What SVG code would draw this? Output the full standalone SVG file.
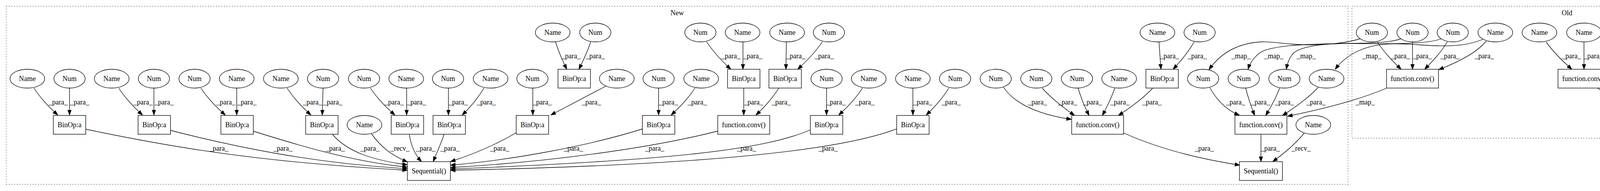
<svg xmlns="http://www.w3.org/2000/svg" width="4579" height="488" viewBox="0 0 4579 488">
<style>
text{font-family:"Liberation Serif","Times New Roman",serif;font-size:18px;fill:#000;text-anchor:middle}
.cl{fill:none;stroke:#000;stroke-width:1.33;stroke-dasharray:1.4,5.4}
.n ellipse,.n rect{fill:#fff;stroke:#000;stroke-width:1.33}
#edges path{fill:none;stroke:#000;stroke-width:1.33;marker-end:url(#ah)}
</style>
<defs>
<marker id="ah" viewBox="0 0 13 10" refX="13" refY="5" markerWidth="13" markerHeight="10" orient="auto" markerUnits="userSpaceOnUse"><path d="M0,0.3 L13,5 L0,9.7 z" fill="#000" stroke="#000" stroke-width="1"/></marker>
</defs>
<rect width="4579" height="488" fill="#fff"/>
<g id="cluster_new"><rect class="cl" x="16" y="16" width="3435" height="455"/><text x="1733.5" y="39">New</text></g>
<g id="cluster_old"><rect class="cl" x="3461" y="16" width="1101" height="337"/><text x="4011.5" y="39">Old</text></g>
<g id="edges">
<path d="M87,225 C105,253 127,275 148,294"/>
<path d="M178,225 L178,294"/>
<path d="M304,225 C322,253 344,275 365,294"/>
<path d="M394,225 L394,294"/>
<path d="M514,225 C533,253 555,275 577,294"/>
<path d="M606,225 L606,294"/>
<path d="M735,225 C753,253 775,275 796,294"/>
<path d="M827,225 L825,294"/>
<path d="M948,225 C967,253 989,275 1011,294"/>
<path d="M1041,225 L1041,294"/>
<path d="M1148,225 L1148,294"/>
<path d="M1239,225 C1222,253 1203,275 1183,294"/>
<path d="M1364,225 L1364,294"/>
<path d="M1551,220 L1410,294"/>
<path d="M1686,225 L1686,294"/>
<path d="M1779,225 C1761,253 1739,275 1718,294"/>
<path d="M1904,225 L1904,294"/>
<path d="M1994,225 C1976,253 1956,275 1935,294"/>
<path d="M2116,225 L2116,294"/>
<path d="M2208,225 C2190,253 2168,275 2147,294"/>
<path d="M2337,225 L2337,294"/>
<path d="M2429,225 C2412,253 2391,275 2371,294"/>
<path d="M1422,107 C1431,135 1441,157 1451,177"/>
<path d="M1512,107 C1503,135 1492,157 1482,177"/>
<path d="M1809,107 C1828,135 1849,157 1871,177"/>
<path d="M1902,107 L1902,177"/>
<path d="M2013,107 L2012,177"/>
<path d="M2105,107 C2086,135 2064,157 2042,177"/>
<path d="M2967,107 L2972,177"/>
<path d="M3057,107 C3041,135 3022,157 3003,177"/>
<path d="M2569,223 C2590,255 2640,290 2743,305"/>
<path d="M2668,225 C2693,253 2722,275 2751,295"/>
<path d="M2760,225 C2768,253 2778,275 2788,295"/>
<path d="M2854,225 C2844,253 2833,275 2822,295"/>
<path d="M2951,225 C2925,253 2894,275 2863,295"/>
<path d="M3097,224 C3115,255 3140,282 3173,294"/>
<path d="M3189,225 C3196,253 3204,275 3212,295"/>
<path d="M3276,225 C3265,253 3253,275 3240,295"/>
<path d="M3375,223 C3347,252 3315,275 3283,295"/>
<path d="M3550,225 C3480,255 3380,280 3296,297"/>
<path d="M3228,343 L3228,413"/>
<path d="M3339,340 C3315,369 3286,393 3258,413"/>
<path d="M2877,340 C2990,390 3100,410 3174,422"/>
<path d="M219,330 C420,372 650,414 1043,435"/>
<path d="M436,333 C600,375 800,417 1043,431"/>
<path d="M648,335 C760,370 900,413 1043,427"/>
<path d="M851,343 C890,390 960,410 1043,421"/>
<path d="M951,342 C975,375 1000,395 1043,414"/>
<path d="M1048,343 C1052,375 1065,398 1079,413"/>
<path d="M1137,343 C1128,370 1118,390 1109,413"/>
<path d="M1322,339 C1260,375 1200,398 1153,413"/>
<path d="M1646,329 C1500,375 1300,410 1153,422"/>
<path d="M1837,335 C1660,380 1400,414 1153,428"/>
<path d="M2074,332 C1950,385 1700,410 1153,432"/>
<path d="M2296,329 C2150,385 1800,422 1153,435"/>
<path d="M3526,107 C3544,135 3566,157 3587,177"/>
<path d="M3616,107 L3616,177"/>
<path d="M3705,107 C3688,135 3667,157 3647,177"/>
<path d="M3805,105 C3780,135 3730,160 3683,178"/>
<path d="M3482,99 C3440,112 3380,116 3330,114 C3280,112 3260,106 3230,107 C3170,110 3125,135 3095,178"/>
<path d="M3587,99 C3550,112 3480,110 3400,112 C3320,114 3250,118 3225,135 C3210,147 3200,160 3195,177"/>
<path d="M3690,99 C3650,114 3560,112 3450,111 C3380,111 3330,120 3312,135 C3302,145 3296,160 3293,177"/>
<path d="M3797,100 C3760,116 3720,118 3680,117 C3640,116 3600,111 3560,112 C3500,114 3450,135 3418,177"/>
<path d="M3958,107 C3978,135 4001,157 4024,177"/>
<path d="M4055,107 L4055,177"/>
<path d="M4175,107 C4185,135 4196,157 4208,177"/>
<path d="M4270,107 C4260,135 4249,157 4238,177"/>
<path d="M4394,107 L4394,177"/>
<path d="M4491,107 C4472,135 4449,157 4427,177"/>
<path d="M4090,225 L4190,295"/>
<path d="M4225,225 L4225,295"/>
<path d="M4361,225 L4261,295"/>
<g id="edge_labels">
<text x="1462" y="149">_para_</text><text x="1524" y="149">_para_</text><text x="1871" y="149">_para_</text><text x="1927" y="149">_para_</text><text x="2037" y="149">_para_</text><text x="2110" y="149">_para_</text><text x="2994" y="149">_para_</text><text x="3065" y="149">_para_</text>
<text x="3585" y="149">_para_</text><text x="3641" y="149">_para_</text><text x="3712" y="149">_para_</text><text x="3800" y="149">_para_</text>
<text x="3177" y="149">_map_</text><text x="3261" y="149">_map_</text><text x="3344" y="149">_map_</text><text x="3512" y="149">_map_</text>
<text x="4023" y="149">_para_</text><text x="4079" y="149">_para_</text><text x="4216" y="149">_para_</text><text x="4281" y="149">_para_</text><text x="4419" y="149">_para_</text><text x="4493" y="149">_para_</text>
<text x="149" y="267">_para_</text><text x="204" y="267">_para_</text><text x="366" y="267">_para_</text><text x="420" y="267">_para_</text><text x="578" y="267">_para_</text><text x="632" y="267">_para_</text><text x="800" y="267">_para_</text><text x="852" y="267">_para_</text><text x="1009" y="267">_para_</text><text x="1066" y="267">_para_</text><text x="1173" y="267">_para_</text><text x="1245" y="267">_para_</text><text x="1388" y="267">_para_</text><text x="1514" y="267">_para_</text><text x="1711" y="267">_para_</text><text x="1785" y="267">_para_</text><text x="1929" y="267">_para_</text><text x="2000" y="267">_para_</text><text x="2140" y="267">_para_</text><text x="2214" y="267">_para_</text><text x="2362" y="267">_para_</text><text x="2435" y="267">_para_</text>
<text x="2656" y="267">_para_</text><text x="2733" y="267">_para_</text><text x="2797" y="267">_para_</text><text x="2867" y="267">_para_</text><text x="2949" y="267">_para_</text>
<text x="3163" y="267">_para_</text><text x="3227" y="267">_para_</text><text x="3288" y="267">_para_</text><text x="3369" y="267">_para_</text><text x="3495" y="267">_map_</text>
<text x="4179" y="267">_para_</text><text x="4249" y="267">_para_</text><text x="4349" y="267">_para_</text>
<text x="560" y="385">_para_</text><text x="724" y="385">_para_</text><text x="858" y="385">_para_</text><text x="947" y="385">_para_</text><text x="1024" y="385">_recv_</text><text x="1090" y="385">_para_</text><text x="1152" y="385">_para_</text><text x="1279" y="385">_para_</text><text x="1468" y="385">_para_</text><text x="1676" y="385">_para_</text><text x="1911" y="385">_para_</text><text x="2120" y="385">_para_</text>
<text x="3252" y="385">_para_</text><text x="3331" y="385">_recv_</text><text x="3083" y="385">_para_</text>
</g>
</g>
<g id="t1" class="n"><ellipse cx="1415" cy="83" rx="44.5" ry="24"/><text x="1415" y="89">Name</text></g>
<g id="t2" class="n"><ellipse cx="1524" cy="83" rx="40" ry="24"/><text x="1524" y="89">Num</text></g>
<g id="t3" class="n"><ellipse cx="1793" cy="83" rx="40" ry="24"/><text x="1793" y="89">Num</text></g>
<g id="t4" class="n"><ellipse cx="1901" cy="83" rx="44.5" ry="24"/><text x="1901" y="89">Name</text></g>
<g id="t5" class="n"><ellipse cx="2015" cy="83" rx="44.5" ry="24"/><text x="2015" y="89">Name</text></g>
<g id="t6" class="n"><ellipse cx="2122" cy="83" rx="40" ry="24"/><text x="2122" y="89">Num</text></g>
<g id="t7" class="n"><ellipse cx="2963" cy="83" rx="44.5" ry="24"/><text x="2963" y="89">Name</text></g>
<g id="t8" class="n"><ellipse cx="3071" cy="83" rx="40" ry="24"/><text x="3071" y="89">Num</text></g>
<g id="a1" class="n"><ellipse cx="70" cy="201" rx="44.5" ry="24"/><text x="70" y="207">Name</text></g>
<g id="a2" class="n"><ellipse cx="178" cy="201" rx="40" ry="24"/><text x="178" y="207">Num</text></g>
<g id="a3" class="n"><ellipse cx="286" cy="201" rx="44.5" ry="24"/><text x="286" y="207">Name</text></g>
<g id="a4" class="n"><ellipse cx="394" cy="201" rx="40" ry="24"/><text x="394" y="207">Num</text></g>
<g id="a5" class="n"><ellipse cx="498" cy="201" rx="40" ry="24"/><text x="498" y="207">Num</text></g>
<g id="a6" class="n"><ellipse cx="606" cy="201" rx="44.5" ry="24"/><text x="606" y="207">Name</text></g>
<g id="a7" class="n"><ellipse cx="719" cy="201" rx="44.5" ry="24"/><text x="719" y="207">Name</text></g>
<g id="a8" class="n"><ellipse cx="827" cy="201" rx="40" ry="24"/><text x="827" y="207">Num</text></g>
<g id="a9" class="n"><ellipse cx="932" cy="201" rx="40" ry="24"/><text x="932" y="207">Num</text></g>
<g id="a10" class="n"><ellipse cx="1040" cy="201" rx="44.5" ry="24"/><text x="1040" y="207">Name</text></g>
<g id="a11" class="n"><ellipse cx="1147" cy="201" rx="40" ry="24"/><text x="1147" y="207">Num</text></g>
<g id="a12" class="n"><ellipse cx="1256" cy="201" rx="44.5" ry="24"/><text x="1256" y="207">Name</text></g>
<g id="a13" class="n"><ellipse cx="1363" cy="201" rx="40" ry="24"/><text x="1363" y="207">Num</text></g>
<g id="a14" class="n"><ellipse cx="1579" cy="201" rx="44.5" ry="24"/><text x="1579" y="207">Name</text></g>
<g id="a15" class="n"><ellipse cx="1686" cy="201" rx="40" ry="24"/><text x="1686" y="207">Num</text></g>
<g id="a16" class="n"><ellipse cx="1795" cy="201" rx="44.5" ry="24"/><text x="1795" y="207">Name</text></g>
<g id="a17" class="n"><ellipse cx="2116" cy="201" rx="40" ry="24"/><text x="2116" y="207">Num</text></g>
<g id="a18" class="n"><ellipse cx="2224" cy="201" rx="44.5" ry="24"/><text x="2224" y="207">Name</text></g>
<g id="a19" class="n"><ellipse cx="2337" cy="201" rx="44.5" ry="24"/><text x="2337" y="207">Name</text></g>
<g id="a20" class="n"><ellipse cx="2445" cy="201" rx="40" ry="24"/><text x="2445" y="207">Num</text></g>
<g id="a21" class="n"><ellipse cx="2549" cy="201" rx="40" ry="24"/><text x="2549" y="207">Num</text></g>
<g id="a22" class="n"><ellipse cx="2653" cy="201" rx="40" ry="24"/><text x="2653" y="207">Num</text></g>
<g id="a23" class="n"><ellipse cx="2757" cy="201" rx="40" ry="24"/><text x="2757" y="207">Num</text></g>
<g id="a24" class="n"><ellipse cx="2865" cy="201" rx="44.5" ry="24"/><text x="2865" y="207">Name</text></g>
<g id="a25" class="n"><ellipse cx="3080" cy="201" rx="40" ry="24"/><text x="3080" y="207">Num</text></g>
<g id="a26" class="n"><ellipse cx="3184" cy="201" rx="40" ry="24"/><text x="3184" y="207">Num</text></g>
<g id="a27" class="n"><ellipse cx="3288" cy="201" rx="40" ry="24"/><text x="3288" y="207">Num</text></g>
<g id="a28" class="n"><ellipse cx="3396" cy="201" rx="44.5" ry="24"/><text x="3396" y="207">Name</text></g>
<g id="b1" class="n"><rect x="1428.5" y="177" width="83" height="48"/><text x="1470" y="207">BinOp:a</text></g>
<g id="b2" class="n"><rect x="1862.5" y="177" width="83" height="48"/><text x="1904" y="207">BinOp:a</text></g>
<g id="b3" class="n"><rect x="1968.5" y="177" width="83" height="48"/><text x="2010" y="207">BinOp:a</text></g>
<g id="b4" class="n"><rect x="2933.5" y="177" width="83" height="48"/><text x="2975" y="207">BinOp:a</text></g>
<g id="c1" class="n"><rect x="136.5" y="295" width="83" height="48"/><text x="178" y="325">BinOp:a</text></g>
<g id="c2" class="n"><rect x="353.5" y="295" width="83" height="48"/><text x="395" y="325">BinOp:a</text></g>
<g id="c3" class="n"><rect x="565.5" y="295" width="83" height="48"/><text x="607" y="325">BinOp:a</text></g>
<g id="c4" class="n"><rect x="782.5" y="295" width="83" height="48"/><text x="824" y="325">BinOp:a</text></g>
<g id="c5" class="n"><ellipse cx="933" cy="319" rx="44.5" ry="24"/><text x="933" y="325">Name</text></g>
<g id="c6" class="n"><rect x="1001.5" y="295" width="83" height="48"/><text x="1043" y="325">BinOp:a</text></g>
<g id="c7" class="n"><rect x="1108.5" y="295" width="83" height="48"/><text x="1150" y="325">BinOp:a</text></g>
<g id="c8" class="n"><rect x="1321.5" y="295" width="83" height="48"/><text x="1363" y="325">BinOp:a</text></g>
<g id="c9" class="n"><rect x="1644.5" y="295" width="83" height="48"/><text x="1686" y="325">BinOp:a</text></g>
<g id="c10" class="n"><rect x="1837.5" y="295" width="133" height="48"/><text x="1904" y="325">function.conv()</text></g>
<g id="c11" class="n"><rect x="2074.5" y="295" width="83" height="48"/><text x="2116" y="325">BinOp:a</text></g>
<g id="c12" class="n"><rect x="2295.5" y="295" width="83" height="48"/><text x="2337" y="325">BinOp:a</text></g>
<g id="c13" class="n"><rect x="2743.5" y="295" width="133" height="48"/><text x="2810" y="325">function.conv()</text></g>
<g id="c14" class="n"><rect x="3161.5" y="295" width="133" height="48"/><text x="3228" y="325">function.conv()</text></g>
<g id="c15" class="n"><ellipse cx="3362" cy="319" rx="44.5" ry="24"/><text x="3362" y="325">Name</text></g>
<g id="d1" class="n"><rect x="1043" y="413" width="110" height="48"/><text x="1098" y="443">Sequential()</text></g>
<g id="d2" class="n"><rect x="3173" y="413" width="110" height="48"/><text x="3228" y="443">Sequential()</text></g>
<g id="o1" class="n"><ellipse cx="3512" cy="83" rx="40" ry="24"/><text x="3512" y="89">Num</text></g>
<g id="o2" class="n"><ellipse cx="3616" cy="83" rx="40" ry="24"/><text x="3616" y="89">Num</text></g>
<g id="o3" class="n"><ellipse cx="3719" cy="83" rx="40" ry="24"/><text x="3719" y="89">Num</text></g>
<g id="o4" class="n"><ellipse cx="3828" cy="83" rx="44.5" ry="24"/><text x="3828" y="89">Name</text></g>
<g id="o5" class="n"><ellipse cx="3941" cy="83" rx="44.5" ry="24"/><text x="3941" y="89">Name</text></g>
<g id="o6" class="n"><ellipse cx="4055" cy="83" rx="44.5" ry="24"/><text x="4055" y="89">Name</text></g>
<g id="o7" class="n"><ellipse cx="4168" cy="83" rx="44.5" ry="24"/><text x="4168" y="89">Name</text></g>
<g id="o8" class="n"><ellipse cx="4281" cy="83" rx="44.5" ry="24"/><text x="4281" y="89">Name</text></g>
<g id="o9" class="n"><ellipse cx="4394" cy="83" rx="44.5" ry="24"/><text x="4394" y="89">Name</text></g>
<g id="o10" class="n"><ellipse cx="4508" cy="83" rx="44.5" ry="24"/><text x="4508" y="89">Name</text></g>
<g id="p1" class="n"><rect x="3549.5" y="177" width="133" height="48"/><text x="3616" y="207">function.conv()</text></g>
<g id="p2" class="n"><rect x="3988.5" y="177" width="133" height="48"/><text x="4055" y="207">function.conv()</text></g>
<g id="p3" class="n"><rect x="4159.5" y="177" width="133" height="48"/><text x="4226" y="207">function.conv()</text></g>
<g id="p4" class="n"><rect x="4328.5" y="177" width="133" height="48"/><text x="4395" y="207">function.conv()</text></g>
<g id="q1" class="n"><rect x="4170" y="295" width="110" height="48"/><text x="4225" y="325">Sequential()</text></g>
</svg>
